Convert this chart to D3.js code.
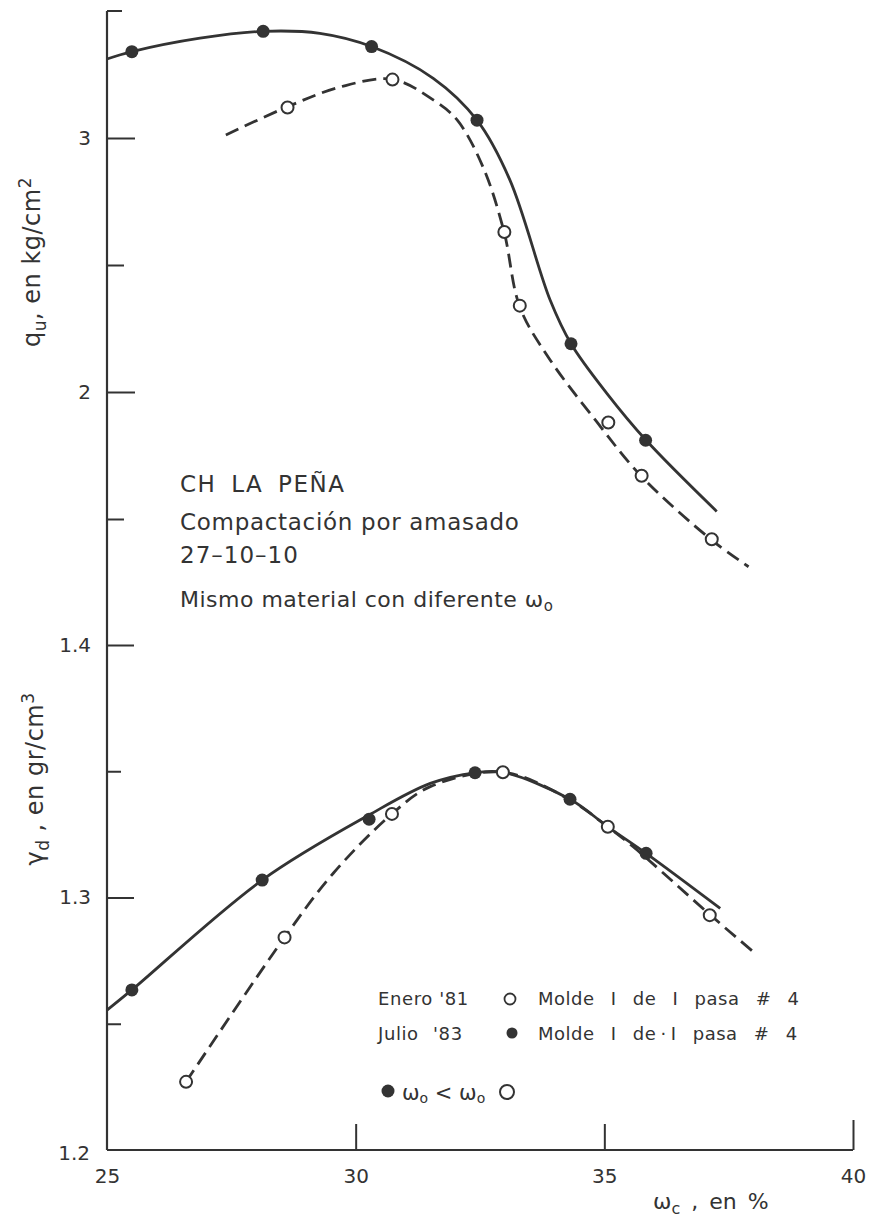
<!DOCTYPE html>
<html>
<head>
<meta charset="utf-8">
<script src="https://cdn.jsdelivr.net/npm/d3@7"></script>
<style>
  html, body { margin: 0; padding: 0; background: #fff; }
  svg { display: block; font-family: "DejaVu Sans", sans-serif; }
  text { fill: #333; }
</style>
</head>
<body>
<svg id="chart" width="873" height="1218"></svg>
<script>
// ---------- DATA ----------
const xTicks = [25, 30, 35, 40];
const quTicksMajor = [2, 3];
const quTicksMinor = [1.5, 2.5];
const gdTicksMajor = [1.2, 1.3, 1.4];
const gdTicksMinor = [1.25, 1.35];

// measured points: Julio '83 (filled), Enero '81 (open)
const quJulioW = [25.5, 28.14, 30.32, 32.44, 34.33, 35.83];
const quJulio  = [3.34, 3.42, 3.36, 3.07, 2.19, 1.81];
const quEneroW = [28.63, 30.74, 32.99, 33.30, 35.08, 35.75, 37.16];
const quEnero  = [3.12, 3.23, 2.63, 2.34, 1.88, 1.67, 1.42];
const gdJulioW = [25.5, 28.12, 30.27, 32.40, 34.31, 35.84];
const gdJulio  = [1.2634, 1.3069, 1.331, 1.3494, 1.3389, 1.3175];
const gdEneroW = [26.59, 28.57, 30.73, 32.96, 35.07, 37.12];
const gdEnero  = [1.227, 1.2842, 1.3331, 1.3496, 1.328, 1.293];

// hand-drawn fitted curves (vertices)
const quJulioCurveW = [25.0, 25.5, 26.87, 28.14, 29.28, 30.32, 31.56, 32.44, 33.10, 33.91, 34.33, 35.05, 35.84, 37.26];
const quJulioCurve  = [3.311, 3.34, 3.393, 3.42, 3.412, 3.36, 3.235, 3.07, 2.835, 2.362, 2.19, 1.995, 1.81, 1.53];
const quEneroCurveW = [27.39, 28.63, 29.69, 30.74, 31.56, 32.04, 32.56, 32.98, 33.30, 33.87, 34.85, 35.75, 37.16, 37.90];
const quEneroCurve  = [3.012, 3.123, 3.201, 3.231, 3.150, 3.071, 2.886, 2.634, 2.335, 2.138, 1.882, 1.667, 1.417, 1.312];
const gdJulioCurveW = [25.0, 25.5, 28.12, 30.27, 31.50, 32.40, 32.96, 34.31, 35.07, 35.84, 37.33];
const gdJulioCurve  = [1.2554, 1.2634, 1.3069, 1.3327, 1.3452, 1.3494, 1.3496, 1.3389, 1.3280, 1.3175, 1.2957];
const gdEneroCurveW = [26.59, 28.57, 29.55, 30.73, 31.50, 32.96, 34.31, 35.07, 35.58, 36.19, 37.13, 38.03];
const gdEneroCurve  = [1.2270, 1.2842, 1.3096, 1.3331, 1.3439, 1.3496, 1.3386, 1.3280, 1.3201, 1.3096, 1.2931, 1.2779];

// ---------- SETUP ----------
const ink = "#333";
const svg = d3.select("#chart");
const x = d3.scaleLinear().domain([25, 40]).range([107, 853]);
const yQ = d3.scaleLinear().domain([1, 3.5]).range([646, 11]);
const yG = d3.scaleLinear().domain([1.2, 1.4]).range([1150, 645]);

const zip = (a, b) => a.map((v, i) => [v, b[i]]);

// ---------- AXES ----------
const axisG = svg.append("g").attr("class", "axes");
axisG.append("line").attr("x1", x(25)).attr("x2", x(25)).attr("y1", yQ(3.5)).attr("y2", yG(1.2))
  .attr("stroke", ink).attr("stroke-width", 2.2);
axisG.append("line").attr("x1", x(25)).attr("x2", x(25) + 15).attr("y1", yQ(3.5)).attr("y2", yQ(3.5))
  .attr("stroke", ink).attr("stroke-width", 2);
axisG.append("line").attr("x1", x(25)).attr("x2", x(40)).attr("y1", yG(1.2)).attr("y2", yG(1.2))
  .attr("stroke", ink).attr("stroke-width", 2.2);

function styleAxis(g) {
  g.select(".domain").remove();
  g.selectAll(".tick line").attr("stroke", ink).attr("stroke-width", 2);
  g.selectAll(".tick text").attr("fill", ink).style("font-size", "20px")
    .style("font-family", '"DejaVu Sans", sans-serif');
}
axisG.append("g").attr("transform", `translate(${x(25)},0)`)
  .call(d3.axisLeft(yQ).tickValues(quTicksMajor).tickSizeInner(-28).tickSizeOuter(0).tickPadding(16).tickFormat(d3.format("d")))
  .call(styleAxis);
axisG.append("g").attr("transform", `translate(${x(25)},0)`)
  .call(d3.axisLeft(yQ).tickValues(quTicksMinor).tickSizeInner(-17).tickSizeOuter(0).tickFormat(""))
  .call(styleAxis);
axisG.append("g").attr("transform", `translate(${x(25)},0)`)
  .call(d3.axisLeft(yG).tickValues(gdTicksMajor.filter(d => d !== 1.2)).tickSizeInner(-27).tickSizeOuter(0).tickPadding(16).tickFormat(d3.format(".1f")))
  .call(styleAxis);
axisG.append("g").attr("transform", `translate(${x(25)},0)`)
  .call(d3.axisLeft(yG).tickValues([1.2]).tickSizeInner(0).tickSizeOuter(0).tickPadding(17).tickFormat(d3.format(".1f")))
  .call(styleAxis)
  .selectAll(".tick text").attr("dy", "0.45em");
axisG.append("g").attr("transform", `translate(${x(25)},0)`)
  .call(d3.axisLeft(yG).tickValues(gdTicksMinor).tickSizeInner(-14).tickSizeOuter(0).tickFormat(""))
  .call(styleAxis);
axisG.append("g").attr("transform", `translate(0,${yG(1.2)})`)
  .call(d3.axisBottom(x).tickValues(xTicks).tickSizeInner(-26).tickSizeOuter(0).tickPadding(19).tickFormat(d3.format("d")))
  .call(styleAxis)
  .call(g => g.selectAll(".tick").filter(d => d === 25).select("line").remove())
  .call(g => g.selectAll(".tick").filter(d => d === 40).select("line").attr("y2", -30));

// ---------- AXIS TITLES ----------
const qLab = svg.append("text").attr("transform", "translate(40,262) rotate(-90)")
  .attr("text-anchor", "middle").style("font-size", "24px").style("letter-spacing", "0.5px");
qLab.append("tspan").text("q");
qLab.append("tspan").attr("dy", 6).style("font-size", "17px").text("u");
qLab.append("tspan").attr("dy", -6).text(", en kg/cm");
qLab.append("tspan").attr("dy", -9).style("font-size", "17px").text("2");

const gLab = svg.append("text").attr("transform", "translate(43,779) rotate(-90)")
  .attr("text-anchor", "middle").style("font-size", "24px").style("letter-spacing", "0.5px");
gLab.append("tspan").text("γ");
gLab.append("tspan").attr("dy", 6).style("font-size", "17px").text("d");
gLab.append("tspan").attr("dy", -6).text(" , en gr/cm");
gLab.append("tspan").attr("dy", -9).style("font-size", "17px").text("3");

const xLab = svg.append("text").attr("x", 653).attr("y", 1209).style("font-size", "22px").style("word-spacing", "4px");
xLab.append("tspan").text("ω");
xLab.append("tspan").attr("dy", 5).style("font-size", "16px").text("c");
xLab.append("tspan").attr("dy", -5).text(" , en %");

// ---------- ANNOTATIONS ----------
const ann = svg.append("g").style("font-size", "23px");
ann.append("text").attr("x", 180).attr("y", 492).style("letter-spacing", "1.5px").style("word-spacing", "6px").text("CH LA PEÑA");
ann.append("text").attr("x", 180).attr("y", 530).style("letter-spacing", "0.7px").text("Compactación por amasado");
ann.append("text").attr("x", 180).attr("y", 563).style("letter-spacing", "1px").text("27–10–10");
const mm = ann.append("text").attr("x", 180).attr("y", 607).style("font-size", "22px").style("letter-spacing", "0.5px");
mm.append("tspan").text("Mismo material con diferente ω");
mm.append("tspan").attr("dy", 4).style("font-size", "15px").text("o");

// ---------- CURVES ----------
const lineQ = d3.line().x(d => x(d[0])).y(d => yQ(d[1])).curve(d3.curveCatmullRom.alpha(0.5));
const lineG = d3.line().x(d => x(d[0])).y(d => yG(d[1])).curve(d3.curveCatmullRom.alpha(0.5));
const curves = svg.append("g").attr("fill", "none").attr("stroke", ink).attr("stroke-width", 2.8).attr("stroke-linecap", "butt");
curves.append("path").attr("d", lineQ(zip(quJulioCurveW, quJulioCurve)));
curves.append("path").attr("d", lineQ(zip(quEneroCurveW, quEneroCurve))).attr("stroke-dasharray", "14,7");
curves.append("path").attr("d", lineG(zip(gdJulioCurveW, gdJulioCurve)));
curves.append("path").attr("d", lineG(zip(gdEneroCurveW, gdEneroCurve))).attr("stroke-dasharray", "14,7");

// ---------- MARKERS ----------
const marks = svg.append("g");
function filled(data, ys) {
  marks.selectAll(null).data(data).enter().append("circle")
    .attr("cx", d => x(d[0])).attr("cy", d => ys(d[1])).attr("r", 6.5).attr("fill", ink);
}
function open(data, ys) {
  marks.selectAll(null).data(data).enter().append("circle")
    .attr("cx", d => x(d[0])).attr("cy", d => ys(d[1])).attr("r", 6).attr("fill", "#fff")
    .attr("stroke", ink).attr("stroke-width", 2);
}
filled(zip(quJulioW, quJulio), yQ);
open(zip(quEneroW, quEnero), yQ);
filled(zip(gdJulioW, gdJulio), yG);
open(zip(gdEneroW, gdEnero), yG);

// ---------- LEGEND ----------
const leg = svg.append("g").style("font-size", "18px");
leg.append("text").attr("x", 378).attr("y", 1005).style("letter-spacing", "0.6px").text("Enero '81");
leg.append("circle").attr("cx", 510).attr("cy", 999).attr("r", 5.5).attr("fill", "#fff").attr("stroke", ink).attr("stroke-width", 1.8);
leg.append("text").attr("x", 538).attr("y", 1005).style("letter-spacing", "0.5px").style("word-spacing", "10px").text("Molde I de I pasa # 4");
leg.append("text").attr("x", 378).attr("y", 1040).style("letter-spacing", "0.6px").style("word-spacing", "8px").text("Julio '83");
leg.append("circle").attr("cx", 512).attr("cy", 1033).attr("r", 5.5).attr("fill", ink);
leg.append("text").attr("x", 538).attr("y", 1040).style("letter-spacing", "0.5px").style("word-spacing", "10px").text("Molde I de\u2009·\u2009I pasa # 4");

leg.append("circle").attr("cx", 388).attr("cy", 1091).attr("r", 6.5).attr("fill", ink);
const wl = leg.append("text").attr("x", 402).attr("y", 1100).style("font-size", "21px");
wl.append("tspan").text("ω");
wl.append("tspan").attr("dy", 3).style("font-size", "14px").text("o");
wl.append("tspan").attr("dy", -3).text(" < ω");
wl.append("tspan").attr("dy", 3).style("font-size", "14px").text("o");
leg.append("circle").attr("cx", 507).attr("cy", 1092).attr("r", 7).attr("fill", "#fff").attr("stroke", ink).attr("stroke-width", 2);
</script>
</body>
</html>
